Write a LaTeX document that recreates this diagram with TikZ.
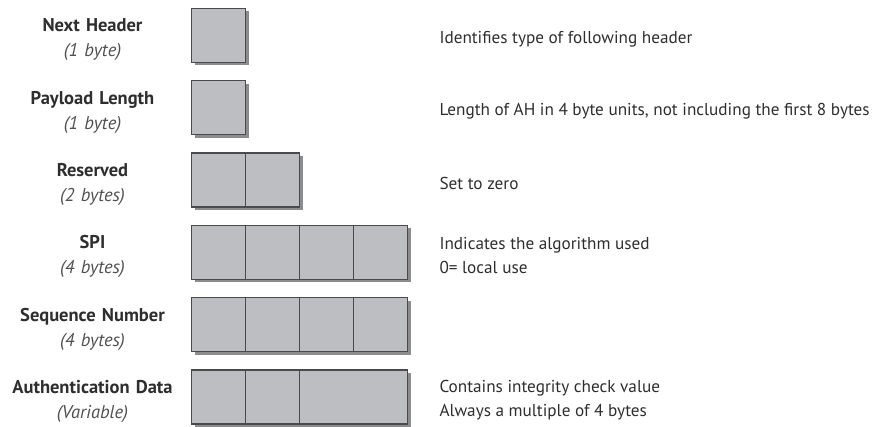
\documentclass[tikz,border=0pt]{standalone}
\usepackage{fontspec}
\setmainfont{PT Sans}
\usetikzlibrary{positioning, shadows}
\definecolor{cellgray}{HTML}{BDBEC2}
\definecolor{edgegray}{HTML}{4A4A4C}
\definecolor{shadowgray}{HTML}{8C8C8E}
\definecolor{inkgray}{HTML}{2E2E2E}
\definecolor{softgray}{HTML}{505050}
\tikzstyle{cell}=[rectangle, draw=edgegray, fill=cellgray, line width=1.4pt,
  minimum width=54pt, minimum height=54pt, inner sep=0pt, outer sep=0pt,
  drop shadow={shadow xshift=3pt, shadow yshift=-3pt, draw=none,
    fill=shadowgray, opacity=1}]
\tikzstyle{widecell}=[cell, minimum width=108pt]
\tikzstyle{field}=[text width=198pt, align=center, inner sep=0pt, text=inkgray,
  yshift=-4.5pt, font=\fontsize{18.5}{25}\selectfont]
\tikzstyle{desc}=[anchor=west, align=left, inner sep=0pt, text=inkgray,
  yshift=-3.5pt, font=\fontsize{17.2}{24.5}\selectfont]
\newcommand{\fieldsize}[1]{\textcolor{softgray}{\itshape #1}}

\begin{document}
\begin{tikzpicture}[x=1pt, y=-1pt, node distance=18.3pt]
    \useasboundingbox (0,0) rectangle (873,426);
    	% Cells
    	\node[cell] (nh1) at (218.7, 35.3) {};
    	\node[cell, below=of nh1] (pl1) {};
    	\node[cell, below=of pl1] (rs1) {};
    	\node[cell, right=0pt of rs1] (rs2) {};
    	\node[cell, below=of rs1] (spi1) {};
    	\node[cell, right=0pt of spi1] (spi2) {};
    	\node[cell, right=0pt of spi2] (spi3) {};
    	\node[cell, right=0pt of spi3] (spi4) {};
    	\node[cell, below=of spi1] (seq1) {};
    	\node[cell, right=0pt of seq1] (seq2) {};
    	\node[cell, right=0pt of seq2] (seq3) {};
    	\node[cell, right=0pt of seq3] (seq4) {};
    	\node[cell, below=of seq1] (auth1) {};
    	\node[cell, right=0pt of auth1] (auth2) {};
    	\node[widecell, right=0pt of auth2] (auth3) {};

    	% Field names
    	\node[field, left=0pt of nh1] (nhlabel) {\textbf{Next Header}\\\fieldsize{(1 byte)}};
    	\node[field, left=0pt of pl1] (pllabel) {\textbf{Payload Length}\\\fieldsize{(1 byte)}};
    	\node[field, left=0pt of rs1] (rslabel) {\textbf{Reserved}\\\fieldsize{(2 bytes)}};
    	\node[field, left=0pt of spi1] (spilabel) {\textbf{SPI}\\\fieldsize{(4 bytes)}};
    	\node[field, left=0pt of seq1] (seqlabel) {\textbf{Sequence Number}\\\fieldsize{(4 bytes)}};
    	\node[field, left=0pt of auth1] (authlabel) {\textbf{Authentication Data}\\\fieldsize{(Variable)}};

    	% Descriptions
    	\node[desc] (nhdesc) at ([xshift=247.6pt]nh1.west) {Identifies type of following header};
    	\node[desc] (pldesc) at ([xshift=247.6pt]pl1.west) {Length of AH in 4 byte units, not including the first 8 bytes};
    	\node[desc] (rsdesc) at ([xshift=247.6pt]rs1.west) {Set to zero};
    	\node[desc] (spidesc) at ([xshift=247.6pt]spi1.west) {Indicates the algorithm used\\0= local use};
    	\node[desc] (authdesc) at ([xshift=247.6pt]auth1.west) {Contains integrity check value\\Always a multiple of 4 bytes};
    \end{tikzpicture}
\end{document}
